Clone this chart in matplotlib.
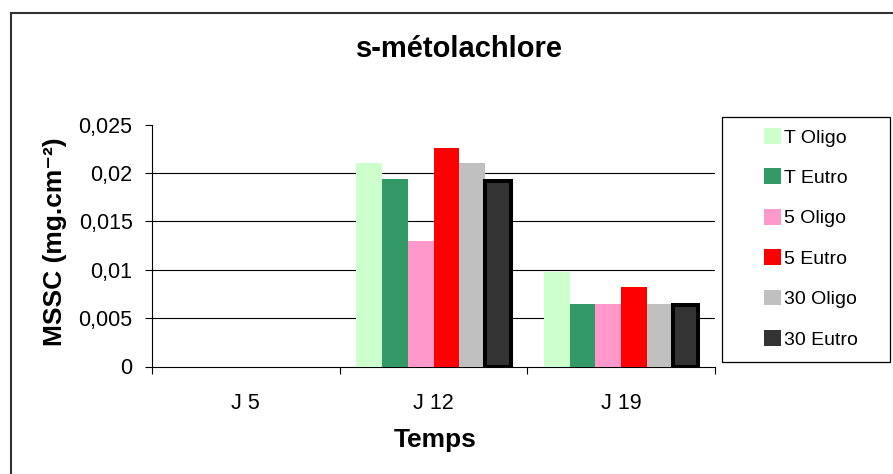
import matplotlib
matplotlib.use("Agg")
import matplotlib.pyplot as plt
from matplotlib.lines import Line2D
from matplotlib.patches import Rectangle
import numpy as np

plt.rcParams['font.family'] = ['Liberation Sans', 'DejaVu Sans']

# Data
days = ["J 5", "J 12", "J 19"]
series_names = ["T Oligo", "T Eutro", "5 Oligo", "5 Eutro", "30 Oligo", "30 Eutro"]
t_oligo = [0, 0.021, 0.0098]
t_eutro = [0, 0.0194, 0.0065]
oligo_5 = [0, 0.013, 0.0065]
eutro_5 = [0, 0.0226, 0.0082]
oligo_30 = [0, 0.021, 0.0065]
eutro_30 = [0, 0.0192, 0.0064]
y_ticks = [0, 0.005, 0.01, 0.015, 0.02, 0.025]
y_tick_labels = ["0", "0,005", "0,01", "0,015", "0,02", "0,025"]

series = [t_oligo, t_eutro, oligo_5, eutro_5, oligo_30, eutro_30]
fills = ["#CCFFCC", "#339966", "#FF99CC", "#FF0000", "#C0C0C0", "#333333"]
edges = [None, None, None, None, None, "#000000"]
edge_w = [0, 0, 0, 0, 0, 2.9]

W, H = 893, 474
fig = plt.figure(figsize=(W / 100, H / 100), dpi=100)
fig.patch.set_facecolor("white")

def fx(px):
    return px / W

def fy(py):
    return 1 - py / H

ax = fig.add_axes([fx(152), fy(366.5), fx(715) - fx(152), fy(124.5) - fy(366.5)])
ax.set_facecolor("white")

x = np.arange(len(days))
bw = 0.137
for i, (vals, fc, ec, lw, name) in enumerate(zip(series, fills, edges, edge_w, series_names)):
    lws = [lw if v > 0 else 0 for v in vals]
    ax.bar(x + (i - 2.5) * bw, vals, width=bw, color=fc,
           edgecolor=ec if ec else fc, linewidth=lws, label=name, zorder=3)

ax.set_xlim(-0.5, 2.5)
ax.set_ylim(0, 0.025)

# horizontal gridlines (no line at the top value)
for v in y_ticks[1:-1]:
    ax.axhline(v, color="black", lw=0.8, zorder=1)

ax.set_yticks(y_ticks)
ax.set_yticklabels(y_tick_labels)
ax.tick_params(axis="y", direction="out", length=5, width=0.8, pad=9, labelsize=15.5)

ax.set_xticks([-0.5, 0.5, 1.5, 2.5])
ax.set_xticklabels([])
ax.set_xticks(x, minor=True)
ax.set_xticklabels(days, minor=True)
ax.tick_params(axis="x", which="major", direction="out", length=5, width=0.8)
ax.tick_params(axis="x", which="minor", length=0, pad=19, labelsize=15.5)

for s in ["top", "right"]:
    ax.spines[s].set_visible(False)
for s in ["left", "bottom"]:
    ax.spines[s].set_color("black")
    ax.spines[s].set_linewidth(0.8)

# Titles
fig.text(fx(459), fy(57), "s-métolachlore", ha="center", va="baseline",
         fontsize=21, fontweight="bold")
fig.text(fx(435.5), fy(447), "Temps", ha="center", va="baseline",
         fontsize=19, fontweight="bold")
fig.text(fx(55), fy(241.5), "MSSC (mg.cm⁻²)", ha="center", va="center",
         rotation=90, fontsize=19, fontweight="bold")

# Legend box
fig.patches.append(Rectangle((fx(722), fy(362)), fx(890) - fx(722), fy(117) - fy(362),
                             transform=fig.transFigure, fill=False,
                             edgecolor="black", linewidth=0.9))
handles, labels = ax.get_legend_handles_labels()
fig.legend(handles, labels, loc="upper left", bbox_to_anchor=(fx(764), fy(128)),
           frameon=False, fontsize=14, handlelength=0.875, handleheight=0.875,
           handletextpad=0.15, labelspacing=1.12, borderpad=0, borderaxespad=0)

# outer chart border (clipped at the right and bottom)
fig.lines.append(Line2D([fx(11), 1], [fy(13), fy(13)], transform=fig.transFigure,
                        color="#333333", lw=1.5))
fig.lines.append(Line2D([fx(11), fx(11)], [0, fy(13)], transform=fig.transFigure,
                        color="#333333", lw=1.5))

fig.savefig("out.png", dpi=100, facecolor="white")
